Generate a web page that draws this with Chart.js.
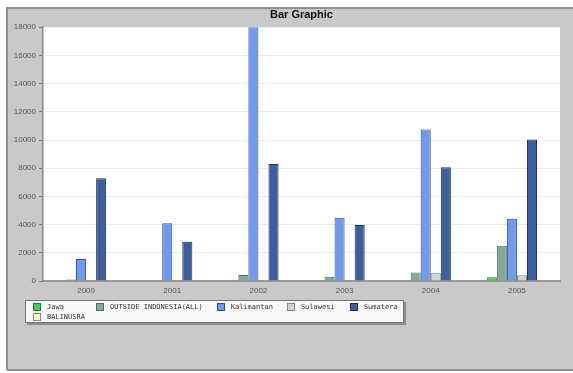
<!DOCTYPE html>
<html>
<head>
<meta charset="utf-8">
<script src="https://cdn.jsdelivr.net/npm/chart.js"></script>
<style>
  body { margin: 0; background: #fff; }
  #wrap { position: relative; width: 573px; height: 373px; }
  #legend {
    position: absolute; left: 25px; top: 300px; width: 370px; height: 20px;
    padding: 1px 0 0 7px; background: #f8f8f8; border: 1px solid #777;
    box-shadow: 2px 2px 0 #8c8c8c;
    display: flex; flex-wrap: wrap; align-content: flex-start;
    font: 7px "DejaVu Sans Mono", monospace; color: #333;
  }
  .item { display: flex; align-items: center; height: 10px; min-width: 49px; margin-right: 14px; white-space: nowrap; }
  .item:nth-child(5) { margin-right: 0; }
  .sw { width: 6px; height: 6px; border: 1px solid #555; margin-right: 6px; }
</style>
</head>
<body>
<div id="wrap">
  <canvas id="myChart"></canvas>
  <div id="legend"></div>
</div>
<script>
// data
const years = ["2000", "2001", "2002", "2003", "2004", "2005"];
const seriesNames = ["Jawa", "OUTSIDE INDONESIA(ALL)", "Kalimantan", "Sulawesi", "Sumatera", "BALINUSRA"];
const jawa = [0, 0, 0, 0, 0, 260];
const outside = [100, 30, 430, 300, 600, 2500];
const kalimantan = [1560, 4090, 18000, 4490, 10750, 4420];
const sulawesi = [0, 0, 0, 0, 590, 400];
const sumatera = [7280, 2790, 8290, 3970, 8060, 10040];
const balinusra = [0, 0, 0, 0, 0, 0];
const yTicks = [0, 2000, 4000, 6000, 8000, 10000, 12000, 14000, 16000, 18000];

const fills = ["#3fcf5a", "#82aa9a", "#7199ee", "#cdd5d5", "#3d5f9e", "#f5f5cf"];
const edges = ["#1f7a30", "#4a6a5e", "#34508a", "#7d8585", "#1d2f55", "#888870"];
const allData = [jawa, outside, kalimantan, sulawesi, sumatera, balinusra];

const datasets = [];
for (let i = 0; i < seriesNames.length; i++) {
  datasets.push({
    label: seriesNames[i],
    data: allData[i],
    backgroundColor: fills[i],
    borderColor: edges[i],
    borderWidth: 1,
    categoryPercentage: 0.7,
    barPercentage: 1.0,
  });
}

// gray panel + white plot area
const panelBg = {
  id: "panelBg",
  beforeDraw(chart) {
    const { ctx, chartArea: a, width, height } = chart;
    ctx.save();
    ctx.fillStyle = "#fff";
    ctx.fillRect(0, 0, width, height);
    ctx.fillStyle = "#c9c9c9";
    ctx.fillRect(7, 8, width - 7, 362);
    ctx.strokeStyle = "#8e8e8e";
    ctx.lineWidth = 2;
    ctx.beginPath();
    ctx.moveTo(7, 370);
    ctx.lineTo(7, 8);
    ctx.lineTo(width, 8);
    ctx.moveTo(7, 370);
    ctx.lineTo(width, 370);
    ctx.stroke();
    ctx.fillStyle = "#fff";
    ctx.fillRect(a.left, a.top, a.right - a.left, a.bottom - a.top);
    ctx.restore();
  },
};

const firstChart = new Chart("myChart", {
  type: "bar",
  data: { labels: years, datasets: datasets },
  plugins: [panelBg],
  options: {
    responsive: true,
    maintainAspectRatio: false,
    animation: false,
    layout: { padding: { left: 7, right: 13, top: 8, bottom: 76 } },
    plugins: {
      legend: { display: false },
      tooltip: { enabled: false },
      title: {
        display: true,
        fullSize: false,
        text: "Bar Graphic",
        color: "#111",
        font: { family: "Liberation Sans", size: 11, weight: "bold" },
        padding: { top: 0, bottom: 6 },
      },
    },
    scales: {
      x: {
        grid: { display: false, drawTicks: false },
        border: { display: true, color: "#999", width: 2 },
        ticks: { color: "#555", font: { family: "Liberation Sans", size: 8 }, padding: 5 },
        afterFit: (s) => { s.height = 16; },
      },
      y: {
        min: 0,
        max: 18000,
        afterBuildTicks: (s) => { s.ticks = yTicks.map((v) => ({ value: v })); },
        grid: { color: "#ececec", tickColor: "#777", tickLength: 4 },
        border: { display: true, color: "#888", width: 1.5 },
        ticks: {
          color: "#555",
          font: { family: "Liberation Sans", size: 8 },
          padding: 3,
          callback: (v) => String(v),
        },
        afterFit: (s) => { s.width = 36; },
      },
    },
  },
});

// html legend
const legendBox = document.getElementById("legend");
firstChart.data.datasets.forEach((ds) => {
  const item = document.createElement("div");
  item.className = "item";
  const sw = document.createElement("span");
  sw.className = "sw";
  sw.style.background = ds.backgroundColor;
  sw.style.borderColor = ds.borderColor;
  item.appendChild(sw);
  item.appendChild(document.createTextNode(ds.label));
  legendBox.appendChild(item);
});
</script>
</body>
</html>
